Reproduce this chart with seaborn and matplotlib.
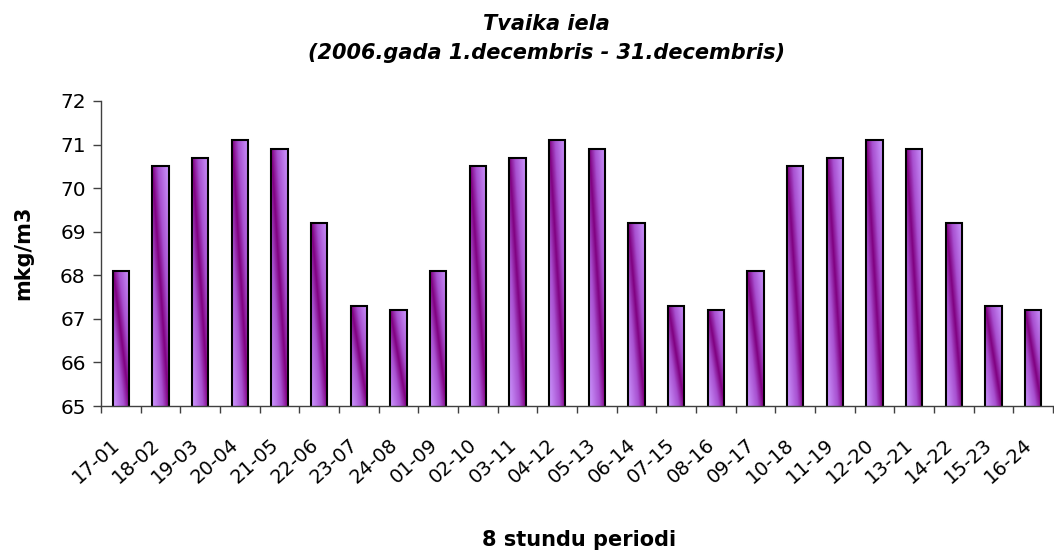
import numpy as np
import pandas as pd
import matplotlib
matplotlib.use("Agg")
import matplotlib.pyplot as plt
import matplotlib.transforms as mtransforms
import seaborn as sns
from matplotlib.colors import LinearSegmentedColormap

periods = ["17-01", "18-02", "19-03", "20-04", "21-05", "22-06", "23-07", "24-08",
           "01-09", "02-10", "03-11", "04-12", "05-13", "06-14", "07-15", "08-16",
           "09-17", "10-18", "11-19", "12-20", "13-21", "14-22", "15-23", "16-24"]
values = [68.1, 70.5, 70.7, 71.1, 70.9, 69.2, 67.3, 67.2,
          68.1, 70.5, 70.7, 71.1, 70.9, 69.2, 67.3, 67.2,
          68.1, 70.5, 70.7, 71.1, 70.9, 69.2, 67.3, 67.2]
yticks = [65, 66, 67, 68, 69, 70, 71, 72]
title_lines = ["Tvaika iela", "(2006.gada 1.decembris - 31.decembris)"]
ylabel = "mkg/m3"
xlabel = "8 stundu periodi"

sns.set_style("white")
plt.rcParams['font.family'] = ['DejaVu Sans']
plt.rcParams['text.color'] = 'black'
plt.rcParams['xtick.labelcolor'] = 'black'
plt.rcParams['ytick.labelcolor'] = 'black'

df = pd.DataFrame({"period": periods, "value": values})

W, H = 1054, 556
fig = plt.figure(figsize=(W / 100, H / 100), dpi=100)
ax = fig.add_axes([101 / W, 1 - 406 / H, (1053 - 101) / W, (406 - 101) / H])

sns.barplot(data=df, x="period", y="value", ax=ax, width=0.42,
            color="#800080", edgecolor="black", linewidth=1.5, saturation=1)

ymin, ymax = 65, 72
ax.set_ylim(ymin, ymax)
ax.set_xlim(-0.5, len(periods) - 0.5)

# diagonal gradient fill inside each bar
cmap = LinearSegmentedColormap.from_list(
    "purp", [(0.0, "#800080"), (0.35, "#A850D0"), (1.0, "#CC99FF")])
nu, nv = 30, 300
u = np.linspace(0, 1, nu)[None, :]
v = np.linspace(0, 1, nv)[:, None]
grad = np.abs(u - v)
for p in list(ax.patches):
    x0, w = p.get_x(), p.get_width()
    top = p.get_y() + p.get_height()
    ax.imshow(grad, extent=(x0, x0 + w, ymin, top), origin="upper",
              cmap=cmap, vmin=0, vmax=1, aspect="auto",
              zorder=p.get_zorder() + 0.1, interpolation="bilinear")
    p.set_facecolor("none")
    p.set_zorder(p.get_zorder() + 0.2)
ax.set_ylim(ymin, ymax)
ax.set_xlim(-0.5, len(periods) - 0.5)

# y axis
ax.set_yticks(yticks)
ax.set_yticklabels([str(t) for t in yticks], fontsize=14.5)
ax.tick_params(axis="y", left=True, length=6, width=1, color="#404040",
               direction="out", pad=5)

# x axis: labels at categories, tick marks at boundaries
ax.set_xticks(range(len(periods)))
ax.set_xticklabels(periods, rotation=42, ha="right", va="top",
                   rotation_mode="anchor", fontsize=14)
ax.set_xticks(np.arange(-0.5, len(periods) + 0.5, 1), minor=True)
ax.tick_params(axis="x", which="major", bottom=True, length=0, pad=21)
ax.tick_params(axis="x", which="minor", bottom=True, length=5, width=1,
               color="#404040", direction="out")
offset = mtransforms.ScaledTranslation(-10 / 100, 0, fig.dpi_scale_trans)
for lbl in ax.get_xticklabels():
    lbl.set_transform(lbl.get_transform() + offset)

for s in ["top", "right"]:
    ax.spines[s].set_visible(False)
for s in ["left", "bottom"]:
    ax.spines[s].set_color("#404040")
    ax.spines[s].set_linewidth(1)

ax.set_xlabel("")
ax.set_ylabel("")

fig.text(546 / W, 1 - 30 / H, title_lines[0], ha="center", va="baseline",
         fontsize=15, fontweight="bold", fontstyle="italic")
fig.text(546 / W, 1 - 59 / H, title_lines[1], ha="center", va="baseline",
         fontsize=15, fontweight="bold", fontstyle="italic")
fig.text(23 / W, 1 - 253 / H, ylabel, ha="center", va="center", rotation=90,
         fontsize=15, fontweight="bold")
fig.text(579 / W, 1 - 546 / H, xlabel, ha="center", va="baseline",
         fontsize=15, fontweight="bold")

fig.savefig("out.png", dpi=100)
